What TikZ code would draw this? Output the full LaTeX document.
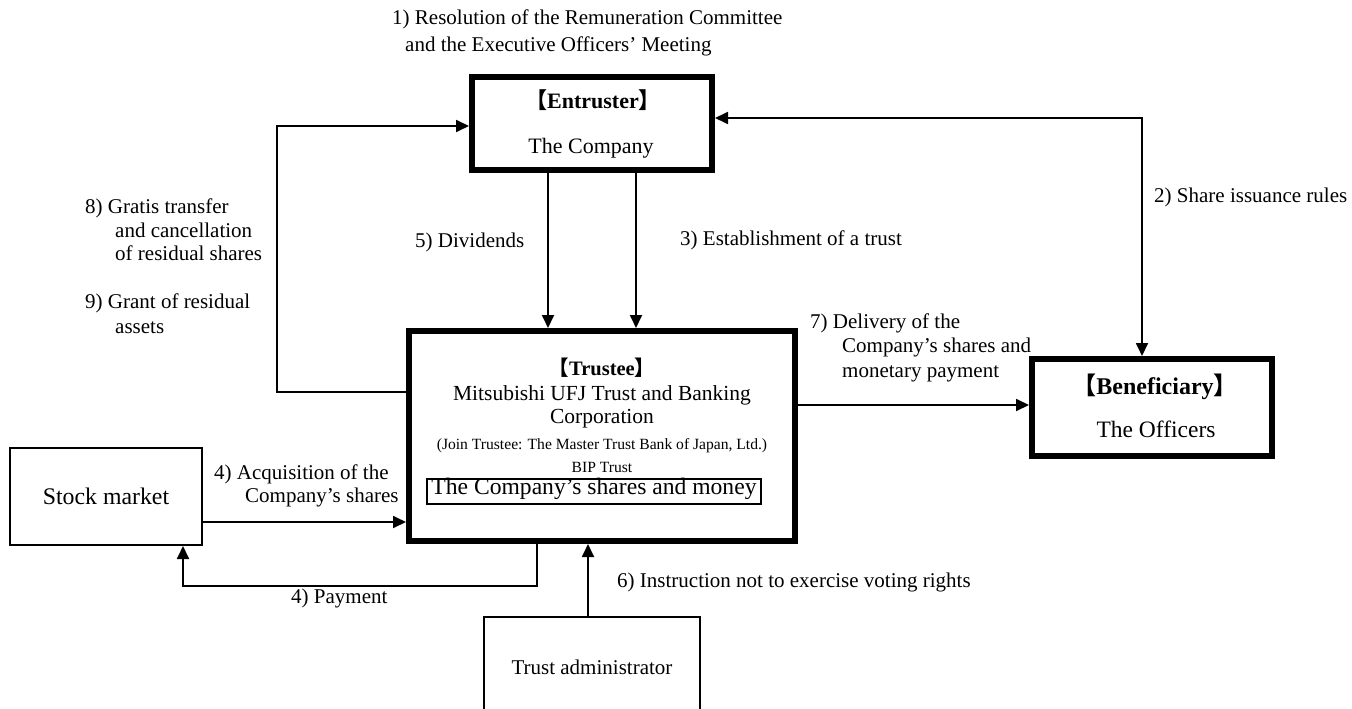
\documentclass[tikz,border=0pt]{standalone}
\usepackage{fontspec}
\setmainfont{Liberation Serif}
\newfontfamily\cjk{Noto Sans CJK JP}
\usetikzlibrary{arrows.meta}
\newcommand{\myfs}[1]{\fontsize{#1pt}{#1pt}\selectfont}
\begin{document}
\begin{tikzpicture}[x=1pt,y=-1pt,
  thickbox/.style={draw, line width=6pt, inner sep=0pt},
  thinbox/.style={draw, line width=2pt, inner sep=0pt},
  txt/.style={inner sep=0pt, text height=1em, text depth=0pt},
  lab/.style={txt, anchor=west, font=\myfs{21}},
  arr/.style={line width=1.8pt, -{Triangle[length=13pt,width=12pt]}},
  arrtwo/.style={line width=1.8pt, {Triangle[length=13pt,width=12pt]}-{Triangle[length=13pt,width=12pt]}},
  plain/.style={line width=2pt}]
\useasboundingbox (0,0) rectangle (1352,709);

% boxes
\node[thickbox, minimum width=240pt, minimum height=93pt] (ent) at (592,123.5) {};
\node[txt, font=\bfseries\myfs{22}] (entT) at (593,103) {{\cjk 【}Entruster{\cjk 】}};
\node[txt, font=\myfs{22}] (entC) at (591,148) {The Company};

\node[thickbox, minimum width=386pt, minimum height=210pt] (tru) at (602,436) {};
\node[txt, font=\bfseries\myfs{20.5}] (truT) at (602,370) {{\cjk 【}Trustee{\cjk 】}};
\node[txt, font=\myfs{21.5}] (truA) at (602,395) {Mitsubishi UFJ Trust and Banking};
\node[txt, font=\myfs{21.5}] (truB) at (602,418) {Corporation};
\node[txt, font=\myfs{15.6}] (truC) at (602,444) {(Join Trustee: The Master Trust Bank of Japan, Ltd.)};
\node[txt, font=\myfs{15.6}] (truD) at (602,467) {BIP Trust};
\node[draw, line width=1.8pt, inner sep=0pt, minimum width=334pt, minimum height=25pt,
      text height=0.75em, text depth=0.15em, font=\myfs{23.6}] (shares) at (594,491.5) {The Company’s shares and money};

\node[thickbox, minimum width=240pt, minimum height=97pt] (ben) at (1152,407.5) {};
\node[txt, font=\bfseries\myfs{24}] (benT) at (1155,389) {{\cjk 【}Beneficiary{\cjk 】}};
\node[txt, font=\myfs{23.5}] (benC) at (1156,432) {The Officers};

\node[thinbox, minimum width=192pt, minimum height=97pt, font=\myfs{23.8}] (stock) at (106,496.5) {Stock market};

\node[inner sep=0pt, minimum width=216pt, minimum height=100pt, font=\myfs{21}] (ta) at (592,667) {Trust administrator};
\draw[plain] (ta.south west) -- (ta.north west) -- (ta.north east) -- (ta.south east);

% connectors
\coordinate (dv) at ([xshift=-44pt]ent.south);
\coordinate (es) at ([xshift=44pt]ent.south);
\draw[arr] (dv) -- (dv |- tru.north);
\draw[arr] (es) -- (es |- tru.north);

\coordinate (dl) at ([yshift=31pt]tru.east);
\draw[arr] (dl) -- (dl -| ben.west);

\coordinate (aq) at ([yshift=-25.5pt]stock.east);
\draw[arr] (aq) -- (aq -| tru.west);

\coordinate (pyS) at ([xshift=-65pt]tru.south);
\coordinate (pyE) at ([xshift=77pt]stock.south);
\coordinate (pyM) at ([yshift=-40pt]pyE);
\draw[arr] (pyS) |- (pyM) -- (pyE);

\coordinate (in6) at ([xshift=-14pt]tru.south);
\draw[arr] (in6 |- ta.north) -- (in6);

\coordinate (lp) at ([yshift=44pt]tru.west);
\coordinate (le) at ([yshift=-2.5pt]ent.west);
\draw[arr] (lp) -- ++(-129pt,0) |- (le);

\coordinate (re) at ([yshift=5.5pt]ent.east);
\coordinate (rb) at ([xshift=-10pt]ben.north);
\draw[arrtwo] (re) -| (rb);

% labels
\node[lab] (l1a) at (392,20) {1) Resolution of the Remuneration Committee};
\node[lab] (l1b) at (405,47) {and the Executive Officers’ Meeting};
\node[lab] (l2) at (1154,197) {2) Share issuance rules};
\node[lab] (l5) at (415,242) {5) Dividends};
\node[lab] (l3) at (680,240) {3) Establishment of a trust};
\node[lab] (l8a) at (85,208) {8) Gratis transfer};
\node[lab] (l8b) at (115,232) {and cancellation};
\node[lab] (l8c) at (115,255) {of residual shares};
\node[lab] (l9a) at (85,303) {9) Grant of residual};
\node[lab] (l9b) at (115,328) {assets};
\node[lab] (l7a) at (810,323) {7) Delivery of the};
\node[lab] (l7b) at (842,347) {Company’s shares and};
\node[lab] (l7c) at (842,372) {monetary payment};
\node[lab] (l4a) at (214,474) {4) Acquisition of the};
\node[lab] (l4b) at (245,497) {Company’s shares};
\node[lab] (l4p) at (291,598) {4) Payment};
\node[lab] (l6) at (617,582) {6) Instruction not to exercise voting rights};
\end{tikzpicture}
\end{document}
